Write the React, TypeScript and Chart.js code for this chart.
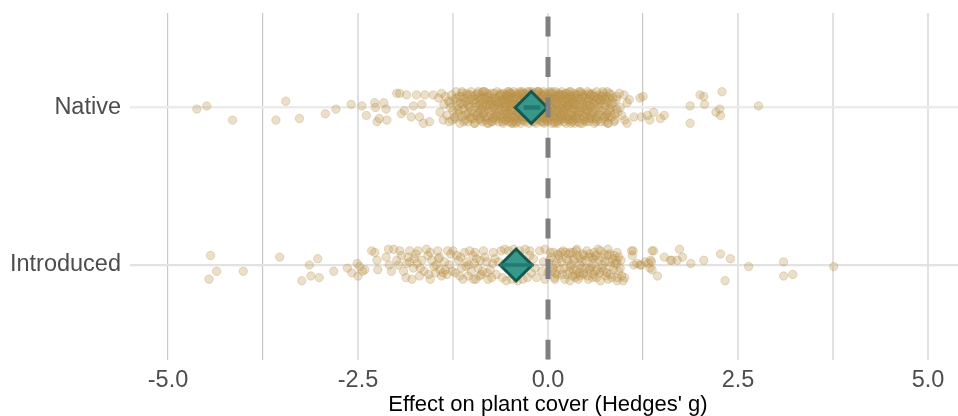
import { useEffect, useRef } from "react";
import { Chart, registerables } from "chart.js";

Chart.register(...registerables);

// Category rows on the y axis (numeric positions: Introduced = 1, Native = 2)
const groupLabels = ["Introduced", "Native"];
const groupPositions = [1, 2];

// Gridline positions and the ones that carry a label
const xGridValues = [-5, -3.75, -2.5, -1.25, 0, 1.25, 2.5, 3.75, 5];
const xLabelValues = [-5, -2.5, 0, 2.5, 5];

// Individual effect sizes: [Hedges' g, vertical jitter]
const nativeEffects: [number, number][] = [
  [-4.62, -0.01], [-4.49, 0.01], [-4.15, -0.08], [-3.58, -0.08], [-3.45, 0.04], [-3.27, -0.07],
  [-2.93, -0.04], [-2.79, -0.01], [-2.59, 0.02], [-2.45, 0.01], [-2.39, -0.05], [-2.28, 0.03],
  [-2.27, 0.0], [-2.25, -0.09], [-2.22, -0.07], [-2.16, 0.03], [-2.13, -0.01], [-2.12, -0.08],
  [-1.99, 0.09], [-1.95, 0.09], [-1.93, -0.04], [-1.89, -0.02], [-1.86, 0.08], [-1.8, -0.06],
  [-1.77, 0.01], [-1.73, 0.08], [-1.69, -0.06], [-1.66, 0.02], [-1.64, -0.1], [-1.62, 0.08],
  [-1.56, -0.09], [-1.51, 0.08],
  [-1.44, 0.06], [-1.42, -0.03], [-1.4, 0.09], [-1.38, -0.08], [-1.37, 0.02], [-1.35, 0.07],
  [-1.33, -0.05], [-1.31, 0.04], [-1.3, -0.09], [-1.28, 0.0], [-1.27, 0.08], [-1.25, -0.02],
  [-1.24, 0.05], [-1.22, -0.07], [-1.21, 0.1], [-1.19, 0.01], [-1.18, -0.04], [-1.17, 0.07],
  [-1.16, -0.1], [-1.15, 0.03],
  [-1.14, -0.06], [-1.13, 0.09], [-1.12, 0.02], [-1.11, -0.01], [-1.1, 0.06], [-1.09, -0.08],
  [-1.08, 0.04], [-1.07, -0.04], [-1.06, 0.08], [-1.05, -0.09], [-1.04, 0.01], [-1.03, 0.05],
  [-1.02, -0.06], [-1.01, 0.1], [-1.0, -0.02], [-0.99, 0.07], [-0.98, -0.07], [-0.97, 0.03],
  [-0.96, -0.1], [-0.96, 0.05], [-0.95, 0.0], [-0.94, -0.05], [-0.93, 0.09], [-0.92, -0.03],
  [-0.91, 0.06], [-0.9, -0.08], [-0.9, 0.02], [-0.89, 0.08], [-0.88, -0.06], [-0.88, 0.04],
  [-0.87, -0.01], [-0.86, 0.1], [-0.86, -0.09], [-0.85, 0.03], [-0.85, -0.04],
  [-0.84, 0.07], [-0.84, -0.03], [-0.83, 0.1], [-0.82, -0.08], [-0.82, 0.01], [-0.81, 0.05],
  [-0.8, -0.06], [-0.8, 0.09], [-0.79, -0.01], [-0.78, -0.1], [-0.78, 0.04], [-0.77, 0.08],
  [-0.76, -0.05], [-0.76, 0.02], [-0.75, -0.09], [-0.74, 0.06], [-0.74, -0.02], [-0.73, 0.03],
  [-0.72, -0.07], [-0.72, 0.0], [-0.71, 0.09], [-0.7, -0.04], [-0.7, 0.06], [-0.69, -0.08],
  [-0.68, 0.02], [-0.68, -0.06], [-0.67, 0.1], [-0.66, -0.03], [-0.66, 0.04], [-0.65, -0.09],
  [-0.64, 0.07], [-0.64, 0.01], [-0.63, -0.05], [-0.62, 0.08], [-0.62, -0.01], [-0.61, -0.07],
  [-0.6, 0.05], [-0.6, 0.03], [-0.59, -0.1], [-0.58, 0.0], [-0.58, 0.09], [-0.57, -0.04],
  [-0.57, 0.06], [-0.56, -0.08], [-0.56, 0.02], [-0.55, -0.02], [-0.55, 0.08],
  [-0.54, -0.06], [-0.54, 0.04], [-0.53, 0.1], [-0.53, -0.03], [-0.52, 0.07], [-0.52, -0.09],
  [-0.51, 0.01], [-0.51, 0.05], [-0.5, -0.07], [-0.5, 0.09], [-0.49, -0.01], [-0.49, 0.03],
  [-0.48, -0.1], [-0.48, 0.06], [-0.47, -0.04], [-0.47, 0.08], [-0.46, 0.0], [-0.46, -0.06],
  [-0.45, 0.04], [-0.45, 0.1], [-0.44, -0.08], [-0.44, 0.02], [-0.43, -0.02], [-0.43, 0.07],
  [-0.42, -0.05], [-0.42, 0.09], [-0.41, 0.01], [-0.41, -0.09], [-0.4, 0.05], [-0.4, -0.03],
  [-0.39, 0.08], [-0.39, -0.07], [-0.38, 0.03], [-0.38, -0.01], [-0.37, 0.1], [-0.37, -0.05],
  [-0.36, 0.06], [-0.36, -0.1], [-0.35, 0.0], [-0.35, 0.04], [-0.34, -0.06], [-0.34, 0.08],
  [-0.33, -0.02], [-0.33, 0.02], [-0.32, -0.08], [-0.32, 0.07], [-0.31, 0.05], [-0.31, -0.04],
  [-0.3, 0.09], [-0.3, -0.09], [-0.29, 0.01], [-0.29, -0.01], [-0.28, 0.06], [-0.28, -0.06],
  [-0.27, 0.03], [-0.27, 0.1], [-0.26, -0.03], [-0.26, -0.07], [-0.25, 0.04], [-0.25, -0.1],
  [-0.24, 0.08], [-0.24, -0.05], [-0.23, 0.02], [-0.23, -0.08], [-0.22, 0.06], [-0.22, -0.01],
  [-0.21, 0.1], [-0.21, -0.04], [-0.2, 0.03], [-0.2, -0.09], [-0.19, 0.07], [-0.19, 0.0],
  [-0.18, -0.06], [-0.18, 0.05], [-0.17, -0.02], [-0.17, 0.09], [-0.16, -0.1], [-0.16, 0.01],
  [-0.15, 0.04], [-0.15, -0.07], [-0.14, 0.08], [-0.14, -0.03], [-0.13, 0.06], [-0.13, -0.05],
  [-0.12, 0.02], [-0.12, 0.1], [-0.11, -0.08], [-0.11, -0.01], [-0.1, 0.05], [-0.1, -0.04],
  [-0.09, 0.09], [-0.09, -0.09], [-0.08, 0.0], [-0.08, 0.07], [-0.07, -0.06], [-0.07, 0.03],
  [-0.06, -0.02], [-0.06, 0.1], [-0.05, -0.1], [-0.05, 0.04], [-0.04, 0.06], [-0.04, -0.07],
  [-0.03, 0.01], [-0.03, -0.03], [-0.02, 0.08], [-0.02, -0.05], [-0.01, 0.03], [-0.01, -0.09],
  [0.0, 0.07], [0.0, -0.01], [0.01, -0.06], [0.01, 0.05], [0.02, 0.1], [0.02, -0.03],
  [0.03, -0.08], [0.03, 0.02], [0.04, 0.06], [0.04, -0.04], [0.05, 0.09], [0.05, -0.1],
  [0.05, 0.0],
  [0.06, -0.06], [0.06, 0.04], [0.07, 0.08], [0.07, -0.02], [0.08, 0.01], [0.08, -0.09],
  [0.09, 0.06], [0.09, -0.05], [0.1, 0.1], [0.1, -0.01], [0.11, 0.03], [0.11, -0.07],
  [0.12, 0.07], [0.12, -0.03], [0.13, -0.1], [0.13, 0.05], [0.14, 0.0], [0.14, 0.09],
  [0.15, -0.06], [0.15, 0.02], [0.16, -0.04], [0.16, 0.08], [0.17, 0.04], [0.17, -0.08],
  [0.18, 0.1], [0.18, -0.01], [0.19, 0.06], [0.19, -0.07], [0.2, 0.01], [0.2, -0.03],
  [0.21, 0.08], [0.21, -0.09], [0.22, 0.03], [0.22, -0.05], [0.23, 0.07], [0.23, 0.0],
  [0.24, -0.1], [0.24, 0.05], [0.25, -0.02], [0.25, 0.09], [0.26, 0.02], [0.26, -0.06],
  [0.27, 0.06], [0.27, -0.04], [0.28, 0.1], [0.28, -0.08], [0.29, 0.0], [0.29, 0.04],
  [0.3, -0.07], [0.3, 0.08], [0.31, -0.01], [0.31, 0.03], [0.32, -0.09], [0.32, 0.07],
  [0.33, -0.03], [0.33, 0.05], [0.34, 0.01], [0.34, -0.05], [0.35, 0.09], [0.35, -0.1],
  [0.36, 0.04], [0.36, -0.06], [0.37, 0.08], [0.38, -0.02], [0.38, 0.02], [0.39, -0.09],
  [0.4, 0.06], [0.4, -0.04], [0.41, 0.1], [0.42, 0.0], [0.42, -0.07], [0.43, 0.05],
  [0.44, -0.03], [0.44, 0.09], [0.45, -0.1], [0.46, 0.03], [0.46, -0.05], [0.47, 0.07],
  [0.48, -0.01], [0.48, 0.01], [0.49, -0.08], [0.5, 0.08], [0.5, -0.04], [0.51, 0.04],
  [0.52, -0.06], [0.52, 0.1], [0.53, -0.02], [0.54, 0.06], [0.54, -0.09], [0.55, 0.02],
  [0.56, -0.05], [0.56, 0.08], [0.57, 0.0], [0.58, -0.07], [0.58, 0.05], [0.59, 0.09],
  [0.6, -0.03], [0.6, 0.03], [0.61, -0.1], [0.62, 0.07], [0.62, -0.01], [0.63, 0.04],
  [0.64, -0.06], [0.64, 0.1], [0.65, -0.08],
  [0.66, 0.02], [0.67, -0.04], [0.68, 0.08], [0.69, -0.09], [0.7, 0.05], [0.71, 0.07],
  [0.72, -0.02], [0.73, 0.09], [0.74, -0.07], [0.75, 0.01], [0.76, 0.04], [0.77, -0.05],
  [0.78, 0.1], [0.79, -0.1], [0.8, 0.06], [0.81, -0.01], [0.83, 0.08], [0.84, -0.06],
  [0.86, 0.03], [0.88, -0.08], [0.9, 0.05], [0.92, -0.03], [0.94, 0.09], [0.95, 0.0],
  [-1.23, -0.06], [-1.2, 0.04], [-1.17, -0.02], [-1.14, 0.07], [-1.11, -0.09], [-1.09, 0.03],
  [-1.07, 0.09], [-1.05, -0.03], [-1.03, 0.0], [-1.01, -0.07], [-0.99, 0.05], [-0.97, -0.1],
  [-0.95, 0.08], [-0.93, -0.05], [-0.91, 0.01], [-0.89, -0.02], [-0.87, 0.06], [-0.85, 0.1],
  [-0.83, -0.06], [-0.81, 0.02], [-0.79, 0.07], [-0.77, -0.03], [-0.75, 0.04], [-0.73, -0.09],
  [-0.71, 0.01], [-0.69, 0.06], [-0.67, -0.05], [-0.65, 0.03], [-0.63, 0.09], [-0.61, -0.02],
  [-0.59, 0.05], [-0.57, -0.08], [-0.55, 0.0], [-0.53, 0.06], [-0.51, -0.04], [-0.49, 0.09],
  [-0.47, -0.09], [-0.45, 0.02], [-0.43, -0.06], [-0.41, 0.07], [-0.39, -0.03], [-0.37, 0.03],
  [-0.35, -0.08], [-0.33, 0.09], [-0.31, 0.0], [-0.29, -0.05], [-0.27, 0.07], [-0.25, -0.02],
  [-0.23, 0.05], [-0.21, -0.07], [-0.19, 0.03], [-0.17, 0.06], [-0.15, -0.04], [-0.13, 0.1],
  [-0.11, 0.02], [-0.09, -0.06], [-0.07, 0.08], [-0.05, -0.01], [-0.03, 0.05], [-0.01, -0.07],
  [0.01, 0.02], [0.03, 0.09], [0.05, -0.05], [0.07, 0.04], [0.09, -0.1], [0.11, 0.07],
  [0.13, -0.02], [0.15, 0.06], [0.17, -0.06], [0.19, 0.02], [0.21, -0.04], [0.23, 0.09],
  [0.25, 0.01], [0.27, -0.08], [0.29, 0.07], [0.31, -0.05], [0.33, 0.03], [0.35, -0.01],
  [0.37, -0.07], [0.39, 0.05], [0.41, -0.03], [0.43, 0.1], [0.45, 0.0], [0.47, -0.08],
  [0.49, 0.06], [0.51, -0.02], [0.53, 0.04], [0.55, -0.07], [0.57, 0.08], [0.59, -0.04],
  [0.61, 0.02], [0.63, -0.09], [0.65, 0.06], [0.67, 0.0], [0.69, 0.04], [0.71, -0.05],
  [0.73, 0.02], [0.75, -0.09], [0.77, 0.07], [0.79, 0.03], [0.81, -0.06], [0.83, 0.0],
  [0.85, 0.06],
  [-0.62, 0.04], [-0.58, -0.06], [-0.54, 0.08], [-0.5, 0.02], [-0.46, -0.1], [-0.42, 0.05],
  [-0.38, -0.04], [-0.34, 0.1], [-0.3, -0.06], [-0.26, 0.01], [-0.22, 0.09], [-0.18, -0.09],
  [-0.14, 0.04], [-0.1, -0.02], [-0.06, 0.07], [-0.02, -0.08], [0.02, 0.06], [0.06, -0.03],
  [0.1, 0.03], [0.14, -0.08], [0.18, 0.08], [0.22, -0.01], [0.26, 0.05], [0.3, -0.1],
  [0.34, 0.06], [0.38, -0.05], [0.42, 0.02], [0.46, 0.08], [0.5, -0.09], [0.54, 0.01],
  [-1.29, 0.03], [-1.26, -0.08], [-1.21, 0.06], [-1.18, -0.01], [-1.13, 0.1], [-1.1, -0.05],
  [-1.06, 0.02], [-1.02, 0.08], [-0.98, -0.04], [-0.94, 0.03], [-0.92, 0.1], [-0.89, -0.07],
  [-0.86, 0.0], [-0.83, 0.06], [-0.8, -0.1], [-0.77, 0.01], [-0.74, 0.09], [-0.71, -0.06],
  [-0.69, 0.04], [-0.66, -0.01], [-0.63, 0.08], [-0.6, -0.09], [-0.57, 0.03], [-0.54, -0.04],
  [-0.51, 0.1], [-0.48, -0.02], [-0.45, 0.06], [-0.42, -0.1], [-0.39, 0.01], [-0.36, 0.09],
  [-0.33, -0.06], [-0.3, 0.04], [-0.27, -0.01], [-0.24, 0.1], [-0.21, -0.07], [-0.18, 0.02],
  [-0.15, 0.1], [-0.12, -0.06], [-0.09, 0.03], [-0.06, -0.09], [-0.03, 0.09], [0.0, -0.04],
  [0.03, 0.04], [0.06, 0.1], [0.09, -0.02], [0.12, -0.09], [0.15, 0.08], [0.18, -0.05],
  [0.21, 0.04], [0.24, -0.07], [0.27, 0.01], [0.3, 0.1], [0.33, -0.08], [0.36, 0.02],
  [0.39, 0.08], [0.42, -0.1], [0.45, 0.06], [0.48, -0.06], [0.51, 0.01], [0.54, 0.09],
  [0.57, -0.03], [0.6, 0.07], [0.63, -0.07], [0.66, 0.05], [0.69, -0.02], [0.72, 0.1],
  [0.75, 0.05], [0.78, -0.04], [0.81, 0.09], [0.84, 0.02], [0.87, -0.09], [0.9, 0.07],
  [0.71, 0.07], [0.75, -0.06], [0.79, -0.1], [0.82, -0.03], [0.88, -0.04], [0.9, -0.01],
  [0.97, -0.05], [1.0, 0.08], [1.01, -0.08], [1.04, 0.03], [1.04, -0.1], [1.07, 0.05],
  [1.13, -0.06], [1.21, 0.06], [1.23, -0.06], [1.25, 0.07], [1.31, -0.05], [1.34, -0.08],
  [1.39, -0.03], [1.48, -0.07], [1.53, -0.05], [1.87, 0.01], [1.87, -0.1], [2.0, 0.08],
  [2.05, 0.07], [2.06, 0.02], [2.21, -0.03], [2.26, -0.01], [2.27, -0.05], [2.29, 0.1],
  [2.77, 0.01],
];

const introducedEffects: [number, number][] = [
  [-4.46, -0.09], [-4.44, 0.06], [-4.36, -0.04], [-4.01, -0.04], [-3.53, 0.05], [-3.24, -0.1],
  [-3.14, 0.0], [-3.12, -0.07], [-3.03, 0.04], [-3.01, -0.08], [-2.82, -0.04], [-2.64, -0.02],
  [-2.58, -0.05], [-2.51, 0.01], [-2.5, -0.07], [-2.48, -0.01], [-2.44, -0.04], [-2.41, -0.03],
  [-2.32, 0.09], [-2.28, 0.08], [-2.25, 0.03], [-2.24, -0.03], [-2.13, 0.05], [-2.1, 0.1],
  [-2.09, 0.0], [-2.06, -0.04], [-2.03, 0.1], [-1.99, 0.03], [-1.97, 0.0], [-1.95, 0.09],
  [-1.93, 0.06], [-1.87, -0.08], [-1.82, 0.09], [-1.82, 0.02], [-1.77, -0.02], [-1.74, 0.07],
  [-1.71, 0.09], [-1.69, -0.07], [-1.66, 0.03], [-1.6, 0.1], [-1.55, 0.08], [-1.55, -0.09],
  [-1.53, 0.03], [-1.48, -0.05], [-1.47, 0.0], [-1.45, 0.09], [-1.42, -0.03], [-1.4, -0.07],
  [-1.38, -0.05], [-1.36, 0.02], [-1.35, -0.03], [-1.33, -0.06], [-1.28, 0.07], [-1.25, 0.09],
  [-1.18, 0.03], [-1.16, -0.07], [-1.14, -0.02], [-1.12, -0.09], [-1.1, 0.08], [-1.07, 0.02],
  [-1.05, -0.07], [-1.03, 0.09], [-1.01, -0.04], [-0.98, -0.09], [-0.95, -0.09], [-0.94, 0.04],
  [-0.92, -0.02], [-0.9, -0.07], [-0.88, -0.06], [-0.85, 0.09], [-0.81, 0.02], [-0.79, -0.09],
  [-0.76, -0.03], [-0.72, 0.08], [-0.68, -0.06], [-0.65, 0.02], [-0.62, 0.09], [-0.6, -0.08],
  [-0.57, 0.1], [-0.55, -0.1], [-0.52, 0.09], [-0.48, -0.09], [-0.45, 0.1], [-0.42, 0.0],
  [-0.4, -0.1], [-0.37, 0.09], [-0.33, -0.09], [-0.3, 0.1], [-0.27, -0.08], [-0.24, 0.06],
  [-0.24, 0.09], [-0.22, -0.05], [-0.19, 0.04], [-0.17, -0.02], [-0.15, -0.08], [-0.11, 0.09],
  [-0.08, -0.04], [-0.06, 0.02], [-0.04, -0.09], [-0.04, 0.1], [0.0, -0.05], [0.02, 0.03],
  [0.03, 0.08], [0.05, -0.04], [0.07, -0.02], [0.07, 0.08], [0.09, -0.08], [0.09, -0.09],
  [0.11, 0.01], [0.12, -0.06], [0.14, 0.04], [0.14, 0.06], [0.16, -0.03], [0.18, 0.02],
  [0.2, 0.09], [0.22, -0.09], [0.25, -0.06], [0.26, 0.03], [0.27, 0.07], [0.29, 0.08],
  [0.29, -0.01], [0.29, -0.1], [0.31, 0.0], [0.33, 0.08], [0.33, -0.03], [0.35, 0.04],
  [0.36, -0.08], [0.36, -0.06], [0.38, -0.03], [0.38, 0.1], [0.4, -0.09], [0.42, 0.04],
  [0.42, 0.0], [0.42, -0.07], [0.45, 0.02], [0.47, -0.06], [0.47, 0.06], [0.47, -0.05],
  [0.51, 0.09], [0.52, -0.07], [0.55, -0.02], [0.55, 0.07], [0.55, -0.03], [0.58, 0.05],
  [0.6, 0.04], [0.6, 0.01], [0.6, -0.06], [0.62, -0.04], [0.64, -0.08], [0.66, 0.1],
  [0.67, 0.03], [0.69, 0.09], [0.69, -0.1], [0.71, -0.02], [0.71, 0.0], [0.73, -0.04],
  [0.75, 0.02], [0.77, -0.05], [0.79, 0.1], [0.79, 0.06], [0.79, -0.09], [0.82, -0.06],
  [0.82, -0.01], [0.85, 0.04], [0.88, 0.01], [0.91, -0.08], [0.91, 0.08], [0.91, 0.01],
  [0.91, -0.1], [0.93, 0.05], [0.93, -0.04], [0.95, -0.02], [0.97, -0.07], [0.99, -0.1],
  [1.01, -0.08], [1.1, 0.09], [1.11, 0.06], [1.12, 0.09], [1.13, 0.0], [1.17, 0.01],
  [1.21, 0.0], [1.23, 0.0], [1.28, 0.02], [1.32, 0.01], [1.34, -0.02], [1.35, 0.03],
  [1.36, 0.02], [1.37, 0.09], [1.37, -0.03], [1.39, 0.09], [1.44, -0.07], [1.53, 0.05],
  [1.61, 0.03], [1.63, 0.03], [1.7, 0.03], [1.73, 0.1], [1.77, 0.05], [1.88, 0.01],
  [2.05, 0.03], [2.27, 0.07], [2.33, -0.1], [2.4, 0.04], [2.64, -0.01], [3.1, 0.02],
  [3.1, -0.07], [3.22, -0.06], [3.76, -0.01],
  [-1.9, -0.04], [-1.84, 0.05], [-1.79, -0.09], [-1.72, 0.01], [-1.63, -0.04], [-1.58, 0.06],
  [-1.5, -0.01], [-1.43, 0.05], [-1.3, 0.0], [-1.22, -0.05], [-1.2, 0.06], [-1.08, -0.01],
  [-0.99, 0.06], [-0.97, 0.01], [-0.86, -0.04], [-0.83, 0.05], [-0.74, -0.08], [-0.7, 0.04],
  [0.04, 0.05], [0.1, -0.05], [0.17, 0.08], [0.21, -0.02], [0.24, 0.04], [0.32, -0.07],
  [0.39, 0.06], [0.44, -0.02], [0.49, 0.03], [0.53, -0.09], [0.57, -0.01], [0.63, 0.06],
  [0.68, -0.05], [0.74, 0.07], [0.8, 0.02], [0.84, -0.08], [0.87, 0.06], [0.96, 0.03],
  [-1.86, 0.01], [-1.76, 0.04], [-1.68, -0.02], [-1.57, -0.06], [-1.44, 0.04], [-1.32, 0.09],
  [-1.26, -0.04], [-1.15, 0.05], [-1.04, 0.0], [-0.96, 0.08], [-0.89, 0.03], [-0.8, -0.05],
  [-0.73, 0.01], [0.06, 0.0], [0.13, 0.07], [0.19, -0.06], [0.23, 0.08], [0.28, -0.04],
  [0.34, 0.03], [0.37, 0.09], [0.41, -0.05], [0.46, 0.07], [0.5, -0.02], [0.54, 0.05],
  [0.59, -0.08], [0.61, 0.08], [0.65, -0.03], [0.7, 0.05], [0.76, -0.07], [0.81, 0.07],
  [0.86, -0.03], [0.9, 0.03],
];

// Pooled estimates and their confidence intervals, in groupLabels order
const pooledMeans = [-0.42, -0.22];
const pooledLower = [-0.63, -0.32];
const pooledUpper = [-0.19, -0.1];

const FONT = "'Liberation Sans', Arial, Helvetica, sans-serif";
const POINT_FILL = "rgba(190, 150, 75, 0.3)";
const POINT_EDGE = "rgba(178, 138, 62, 0.34)";

const zeroLinePlugin = {
  id: "zeroLine",
  afterDatasetsDraw(chart: any) {
    const { ctx, chartArea, scales } = chart;
    const x = scales.x.getPixelForValue(0);
    ctx.save();
    ctx.strokeStyle = "#7f7f7f";
    ctx.lineWidth = 5;
    ctx.lineCap = "butt";
    ctx.setLineDash([20, 20.4]);
    ctx.lineDashOffset = 36.8;
    ctx.beginPath();
    ctx.moveTo(x, chartArea.top);
    ctx.lineTo(x, chartArea.bottom);
    ctx.stroke();
    ctx.restore();
  },
};

export default function App() {
  const canvasRef = useRef<HTMLCanvasElement | null>(null);

  useEffect(() => {
    if (!canvasRef.current) return;

    const toPoints = (rows: [number, number][], pos: number) =>
      rows.map(([g, j]) => ({ x: g, y: pos + j }));

    const pointStyle = {
      pointRadius: 4.2,
      pointHoverRadius: 4.2,
      pointBackgroundColor: POINT_FILL,
      pointBorderColor: POINT_EDGE,
      pointBorderWidth: 0.8,
      showLine: false,
      order: 5,
    };

    const ciSets = groupPositions.map((pos, i) => ({
      label: `${groupLabels[i]} CI`,
      data: [
        { x: pooledLower[i], y: pos },
        { x: pooledUpper[i], y: pos },
      ],
      showLine: true,
      borderColor: "#247a71",
      borderWidth: i === 0 ? 3.5 : 4.5,
      pointRadius: 0,
      order: 1,
    }));

    const chart = new Chart(canvasRef.current, {
      type: "scatter",
      data: {
        datasets: [
          { label: "Native", data: toPoints(nativeEffects, groupPositions[1]), ...pointStyle },
          { label: "Introduced", data: toPoints(introducedEffects, groupPositions[0]), ...pointStyle },
          {
            label: "Pooled",
            data: groupPositions.map((pos, i) => ({ x: pooledMeans[i], y: pos })),
            pointStyle: "rectRot",
            pointRadius: 16,
            pointHoverRadius: 16,
            pointBackgroundColor: "#36978b",
            pointBorderColor: "#17574e",
            pointBorderWidth: 3,
            showLine: false,
            order: 2,
          },
          ...ciSets,
        ] as any,
      },
      options: {
        animation: false,
        responsive: false,
        events: [],
        layout: { autoPadding: false, padding: { top: 13, left: 0, right: 0, bottom: 0 } },
        plugins: {
          legend: { display: false },
          tooltip: { enabled: false },
        },
        scales: {
          x: {
            type: "linear",
            min: -5.5,
            max: 5.5,
            afterBuildTicks: (scale: any) => {
              scale.ticks = xGridValues.map((v) => ({ value: v }));
            },
            afterFit: (scale: any) => {
              scale.height = 56.5;
              scale.paddingLeft = 0;
              scale.paddingRight = 0;
            },
            ticks: {
              autoSkip: false,
              maxRotation: 0,
              minRotation: 0,
              padding: 7,
              color: "#4d4d4d",
              font: { family: FONT, size: 23.5 },
              callback: (value: any) =>
                xLabelValues.includes(Number(value)) ? Number(value).toFixed(1) : "",
            },
            grid: {
              drawTicks: false,
              color: (c: any) => {
                const v = c.tick?.value;
                return v === -5 || v === -3.75 || v === 1.25 ? "#c9c9c9" : "#e1e1e1";
              },
              lineWidth: (c: any) => {
                const v = c.tick?.value;
                return v === -5 || v === -3.75 || v === 1.25 ? 1.2 : 2;
              },
            },
            border: { display: false },
            title: {
              display: true,
              text: "Effect on plant cover (Hedges' g)",
              color: "#000000",
              padding: { top: 0, bottom: 0 },
              font: { family: FONT, size: 22, lineHeight: 1 },
            },
          },
          y: {
            type: "linear",
            min: 0.4,
            max: 2.6,
            afterBuildTicks: (scale: any) => {
              scale.ticks = groupPositions.map((v) => ({ value: v }));
            },
            afterFit: (scale: any) => {
              scale.width = 130;
              scale.paddingTop = 0;
              scale.paddingBottom = 0;
            },
            ticks: {
              padding: 9,
              color: "#4d4d4d",
              font: { family: FONT, size: 23.5 },
              callback: (value: any) => {
                const i = groupPositions.indexOf(Number(value));
                return i >= 0 ? groupLabels[i] : "";
              },
            },
            grid: {
              drawTicks: false,
              color: (c: any) => (c.tick?.value === 2 ? "#ebebeb" : "#e2e2e2"),
              lineWidth: (c: any) => (c.tick?.value === 2 ? 2.6 : 2.2),
            },
            border: { display: false },
          },
        },
      } as any,
      plugins: [zeroLinePlugin],
    });

    return () => chart.destroy();
  }, []);

  return (
    <div
      style={{
        position: "fixed",
        left: 0,
        top: 0,
        width: 958,
        height: 416,
        overflow: "hidden",
        background: "#ffffff",
      }}
    >
      <canvas ref={canvasRef} width={966} height={416} style={{ display: "block" }} />
    </div>
  );
}
